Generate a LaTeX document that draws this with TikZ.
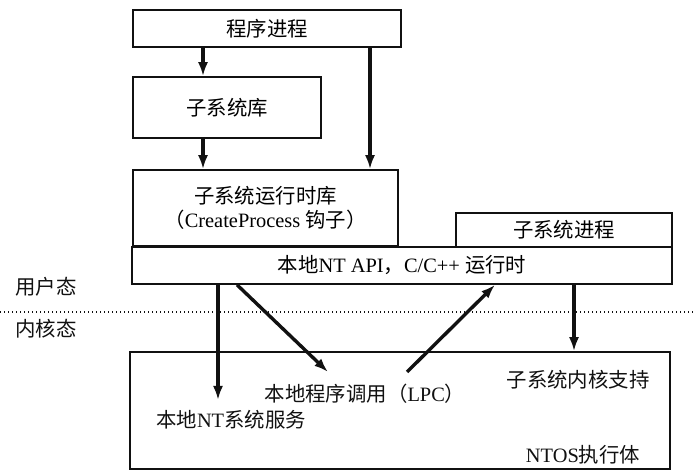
\documentclass[tikz,border=0pt]{standalone}
\usepackage{fontspec}
\setmainfont{Liberation Serif}
\newfontfamily\cjk{Noto Sans CJK SC}
\usepackage{tikz}
\usetikzlibrary{arrows.meta,positioning}
\newcommand{\zh}[1]{{\cjk #1}}
\definecolor{inkc}{HTML}{111111}
\tikzset{
  ar/.style={-{Latex[length=7pt,width=5pt]},line width=1.7pt,inkc},
  box/.style={draw=inkc,line width=0.8pt,fill=white,align=center,inner sep=0pt},
  lbl/.style={inner sep=1pt,inkc}
}

\begin{document}
\begin{tikzpicture}[x=0.5pt,y=-0.5pt,font=\fontsize{10.2}{12}\selectfont]
\useasboundingbox (0,0) rectangle (694,474);
% user side
\node[box,minimum width=134pt,minimum height=18.5pt] (proc) at (267,28.5) {\zh{程序进程}};
\node[box,minimum width=94pt,minimum height=30.5pt] (lib) at (227,107.5) {\zh{子系统库}};
\node[box,minimum width=132.5pt,minimum height=38pt] (rtl) at (265.5,208) {\zh{子系统运行时库}\\[0pt]\zh{（}CreateProcess \zh{钩子）}};
\node[box,minimum width=108pt,minimum height=17pt] (sproc) at (564,230) {\zh{子系统进程}};
\node[box,minimum width=270pt,minimum height=18.5pt] (api) at (402,265.5) {\zh{本地}NT API\zh{，}C/C++ \zh{运行时}};
% mode line
\draw[inkc,line width=0.7pt,dash pattern=on 0.6pt off 1.4pt] (0,312) -- (694,312);
\node[lbl] (umode) at (46,287) {\zh{用户态}};
\node[lbl] (kmode) at (46,329) {\zh{内核态}};
% kernel side
\node[box,minimum width=270pt,minimum height=58.5pt] (kern) at (400,410.5) {};
\node[lbl] (ssk) at (578,380) {\zh{子系统内核支持}};
\node[lbl] (lpc) at (365,394) {\zh{本地程序调用（}LPC\zh{）}};
\node[lbl] (ntss) at (231,420) {\zh{本地}NT\zh{系统服务}};
\node[lbl] (ntos) at (583,455) {NTOS\zh{执行体}};
% arrows
\coordinate (xl) at (203,0);
\coordinate (xr) at (370,0);
\coordinate (k0) at (237,0);
\coordinate (k1) at (218,400);
\coordinate (k2) at (328,372);
\coordinate (k3) at (407,372);
\coordinate (k4) at (495,0);
\coordinate (k5) at (574,0);
\draw[ar] (proc.south -| xl) -- (lib.north -| xl);
\draw[ar] (lib.south -| xl) -- (rtl.north -| xl);
\draw[ar] (proc.south -| xr) -- (rtl.north -| xr);
\draw[ar] (api.south -| k1) -- (k1);
\draw[ar] (api.south -| k0) -- (k2);
\draw[ar] (k3) -- (api.south -| k4);
\draw[ar] (api.south -| k5) -- (kern.north -| k5);
\end{tikzpicture}
\end{document}
